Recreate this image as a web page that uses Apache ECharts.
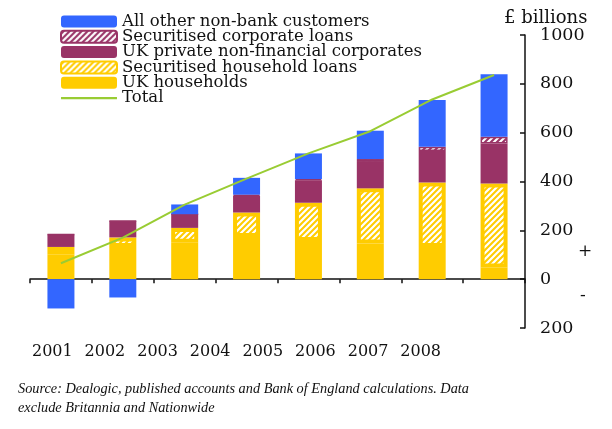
<!DOCTYPE html>
<html>
<head>
<meta charset="utf-8">
<script src="https://cdn.jsdelivr.net/npm/echarts@6/dist/echarts.min.js"></script>
<style>html,body{margin:0;padding:0;background:#fff}#c{width:612px;height:429px}</style>
</head>
<body>
<div id="c"></div>
<script>
const years = ['2001','2002','2003','2004','2005','2006','2007','2008'];
const ukHouseholds = [100, 132, 149, 173, 156, 146, 132, 48];
const secHousehold = [32, 39, 61, 100, 157, 226, 264, 344];
const ukPNFC = [51, 67, 56, 69, 92, 108, 129, 164];
const secCorporate = [0, 0, 0, 4, 5, 12, 17, 27];
const allOther = [-120, -75, 40, 69, 105, 116, 192, 256];
const total = [65, 170, 305, 412, 515, 606, 736, 836];
const yTicks = [-200, 0, 200, 400, 600, 800, 1000];

const YELLOW = '#ffcc00', PURPLE = '#993366', BLUE = '#3366ff', GREEN = '#99cc33';

function hatch(bg) {
  const c = document.createElement('canvas');
  c.width = 6; c.height = 6;
  const g = c.getContext('2d');
  g.fillStyle = bg; g.fillRect(0, 0, 6, 6);
  g.strokeStyle = '#ffffff'; g.lineWidth = 2.2;
  g.beginPath();
  g.moveTo(-1, 7); g.lineTo(7, -1);
  g.moveTo(-4, 4); g.lineTo(4, -4);
  g.moveTo(2, 10); g.lineTo(10, 2);
  g.stroke();
  return c;
}

const chart = echarts.init(document.getElementById('c'), null, {renderer: 'canvas'});
const serif = 'DejaVu Serif';
const barW = 27;
const lineIcon = 'path://M0,0 L56,0 L56,0.01 Z M0,5 L56,5 L56,7.3 L0,7.3 Z M0,12 L56,12 L56,12.01 Z';
chart.setOption({
  animation: false,
  textStyle: {fontFamily: serif, color: '#000'},
  legend: {
    orient: 'vertical', left: 60, top: 13,
    itemWidth: 56, itemHeight: 12, itemGap: -1.7, padding: 0,
    textStyle: {fontFamily: serif, fontSize: 16.5, lineHeight: 15, color: '#111'},
    data: ['All other non-bank customers', 'Securitised corporate loans', 'UK private non-financial corporates', 'Securitised household loans', 'UK households', {name: 'Total', icon: lineIcon}]
  },
  grid: [
    {left: 30, right: 87, top: 35, bottom: 101, containLabel: false},
    {left: 26, width: 421, top: 339, height: 1}
  ],
  xAxis: [
    {type: 'category', gridIndex: 0, data: years, boundaryGap: true,
     axisLine: {onZero: true, lineStyle: {color: '#111', width: 1.5}},
     axisTick: {show: true, length: 4, lineStyle: {color: '#111', width: 1.5}},
     axisLabel: {show: false}},
    {type: 'category', gridIndex: 1, data: years,
     axisLine: {show: false}, axisTick: {show: false},
     axisLabel: {show: true, interval: 0, margin: 4, fontFamily: serif, fontSize: 16, color: '#111'}}
  ],
  yAxis: [
    {type: 'value', gridIndex: 0, position: 'right', min: yTicks[0], max: yTicks[yTicks.length-1], interval: 200,
     splitLine: {show: false},
     axisLine: {show: true, lineStyle: {color: '#111', width: 1.5}},
     axisTick: {show: true, inside: true, length: 5, lineStyle: {color: '#111', width: 1.5}},
     axisLabel: {margin: 15, fontFamily: serif, fontSize: 17.5, color: '#111', formatter: v => String(Math.abs(v))}},
    {type: 'value', gridIndex: 1, show: false}
  ],
  graphic: [
    {type: 'text', left: 504, top: 9, style: {text: '£ billions', font: '18px "DejaVu Serif"', fill: '#111'}},
    {type: 'text', left: 578, top: 243, style: {text: '+', font: '17px "DejaVu Serif"', fill: '#111'}},
    {type: 'text', left: 580, top: 287, style: {text: '-', font: '17px "DejaVu Serif"', fill: '#111'}},
    {type: 'text', left: 18, top: 380, style: {text: 'Source: Dealogic, published accounts and Bank of England calculations. Data\nexclude Britannia and Nationwide', font: 'italic 14.3px "Liberation Serif"', lineHeight: 19, fill: '#111'}}
  ],
  series: [
    {name: 'UK households', type: 'bar', stack: 's', barWidth: barW, data: ukHouseholds,
     itemStyle: {color: YELLOW}},
    {name: 'Securitised household loans', type: 'bar', stack: 's', barWidth: barW, data: secHousehold,
     itemStyle: {color: {image: hatch(YELLOW), repeat: 'repeat'}, borderColor: YELLOW, borderWidth: 4}},
    {name: 'UK private non-financial corporates', type: 'bar', stack: 's', barWidth: barW, data: ukPNFC,
     itemStyle: {color: PURPLE}},
    {name: 'Securitised corporate loans', type: 'bar', stack: 's', barWidth: barW, data: secCorporate,
     itemStyle: {color: {image: hatch(PURPLE), repeat: 'repeat'}, borderColor: PURPLE, borderWidth: 1.5}},
    {name: 'All other non-bank customers', type: 'bar', stack: 's', barWidth: barW, data: allOther,
     itemStyle: {color: BLUE}},
    {name: 'Total', type: 'line', data: total, symbol: 'none', z: 5,
     lineStyle: {color: GREEN, width: 2}, itemStyle: {color: GREEN}}
  ]
});
</script>
</body>
</html>
